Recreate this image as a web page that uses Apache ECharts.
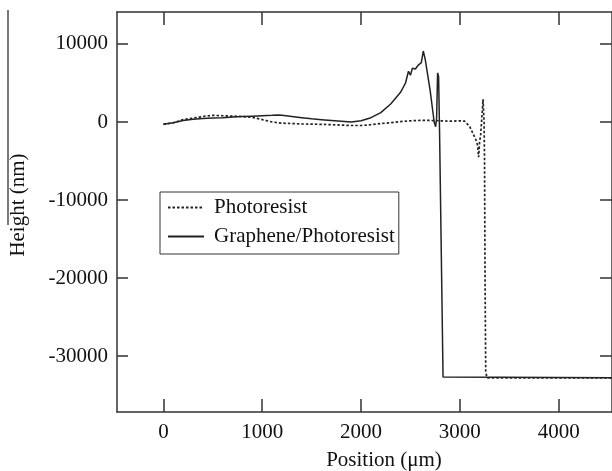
<!DOCTYPE html>
<html>
<head>
<meta charset="utf-8">
<script src="https://cdn.jsdelivr.net/npm/echarts@6/dist/echarts.min.js"></script>
<style>html,body{margin:0;padding:0;background:#fff;}#c{width:612px;height:471px;}</style>
</head>
<body>
<div id="c"></div>
<script>
var xTicks = [0, 1000, 2000, 3000, 4000];
var yTicks = [-30000, -20000, -10000, 0, 10000];

var photoresistX = [0, 100, 200, 300, 400, 500, 600, 700, 800, 900, 1000, 1100, 1200, 1400, 1600, 1800, 1900, 2000, 2100, 2200, 2300, 2400, 2500, 2600, 2700, 2800, 2900, 3000, 3050, 3100, 3130, 3160, 3180, 3190, 3200, 3210, 3225, 3235, 3245, 3250, 3255, 3262, 3275, 4540];
var photoresistY = [-300, -100, 300, 500, 700, 850, 800, 750, 700, 600, 300, 0, -150, -250, -300, -400, -450, -450, -350, -200, -100, 50, 150, 200, 200, 150, 100, 150, 100, -600, -1400, -2200, -3000, -4500, -2500, -1800, -2000, 2900, 0, -5000, -20000, -32000, -32800, -32800];

var grapheneX = [0, 100, 200, 300, 400, 500, 600, 700, 800, 900, 1000, 1100, 1160, 1200, 1300, 1400, 1500, 1600, 1700, 1800, 1900, 2000, 2100, 2200, 2300, 2400, 2450, 2480, 2500, 2520, 2550, 2580, 2610, 2630, 2650, 2700, 2740, 2755, 2765, 2775, 2785, 2795, 2830, 2850, 4540];
var grapheneY = [-300, -100, 200, 350, 450, 500, 550, 650, 700, 750, 800, 850, 900, 850, 700, 550, 400, 300, 200, 100, 0, 150, 550, 1200, 2300, 3800, 5000, 6500, 6000, 6900, 6800, 7300, 7600, 9100, 8000, 4000, 0, -600, 500, 6300, 5800, -1500, -32700, -32800, -32800];

function pairs(xs, ys) { return xs.map(function (x, i) { return [x, ys[i]]; }); }
function plain(v) { return String(v); }

var FONT = '"Liberation Serif", "DejaVu Serif", serif';
var AX = '#333';
var chart = echarts.init(document.getElementById('c'), null, {renderer: 'canvas'});
chart.setOption({
  animation: false,
  backgroundColor: '#fff',
  grid: {left: 117, top: 12, width: 501, height: 400, containLabel: false},
  xAxis: [{
    type: 'value', position: 'bottom', min: -470, max: 4540,
    axisLine: {show: true, onZero: false, lineStyle: {color: AX, width: 1.5}},
    axisTick: {show: true, inside: true, length: 13, customValues: xTicks, lineStyle: {color: AX, width: 1.5}},
    axisLabel: {show: true, customValues: xTicks, formatter: plain, margin: 10, fontFamily: FONT, fontSize: 21, color: '#111'},
    splitLine: {show: false}
  }, {
    type: 'value', position: 'top', min: -470, max: 4540,
    axisLine: {show: true, onZero: false, lineStyle: {color: AX, width: 1.5}},
    axisTick: {show: true, inside: true, length: 13, customValues: xTicks, lineStyle: {color: AX, width: 1.5}},
    axisLabel: {show: false},
    splitLine: {show: false}
  }],
  yAxis: [{
    type: 'value', position: 'left', min: -37180, max: 14100,
    axisLine: {show: true, onZero: false, lineStyle: {color: AX, width: 1.5}},
    axisTick: {show: true, inside: true, length: 11, customValues: yTicks, lineStyle: {color: AX, width: 1.5}},
    axisLabel: {show: true, customValues: yTicks, formatter: plain, margin: 9, fontFamily: FONT, fontSize: 21, color: '#111'},
    splitLine: {show: false}
  }, {
    type: 'value', position: 'right', min: -37180, max: 14100,
    axisLine: {show: true, onZero: false, lineStyle: {color: AX, width: 1.5}},
    axisTick: {show: true, inside: true, length: 12, customValues: yTicks, lineStyle: {color: AX, width: 1.5}},
    axisLabel: {show: false},
    splitLine: {show: false}
  }],
  legend: {
    orient: 'vertical', left: 160, top: 192,
    backgroundColor: '#fff',
    borderColor: '#333', borderWidth: 1, borderRadius: 0,
    padding: [5, 4, 7, 7],
    itemWidth: 36, itemHeight: 14, itemGap: 8,
    itemStyle: {opacity: 0},
    lineStyle: {inactiveColor: '#ccc'},
    textStyle: {fontFamily: FONT, fontSize: 21, color: '#111', lineHeight: 20, padding: [0, 0, 0, 5]},
    data: ['Photoresist', 'Graphene/Photoresist']
  },
  series: [{
    name: 'Photoresist', type: 'line', symbol: 'none', xAxisIndex: 0, yAxisIndex: 0,
    data: pairs(photoresistX, photoresistY),
    lineStyle: {color: '#222', width: 1.7, type: [2.5, 2]},
    itemStyle: {color: '#222'}
  }, {
    name: 'Graphene/Photoresist', type: 'line', symbol: 'none', xAxisIndex: 0, yAxisIndex: 0,
    data: pairs(grapheneX, grapheneY),
    lineStyle: {color: '#222', width: 1.5, type: 'solid'},
    itemStyle: {color: '#222'}
  }],
  graphic: [{
    type: 'text', x: 0, y: 0,
    style: {text: 'Position (\u03bcm)', x: 384, y: 460, align: 'center', verticalAlign: 'middle', font: '21px ' + FONT, fill: '#111'}
  }, {
    type: 'text', x: 18, y: 205, rotation: Math.PI / 2,
    style: {text: 'Height (nm)', x: 0, y: 0, align: 'center', verticalAlign: 'middle', font: '21px ' + FONT, fill: '#111'}
  }, {
    type: 'line', shape: {x1: 8, y1: 10, x2: 8, y2: 225}, style: {stroke: '#222', lineWidth: 1.2}
  }]
});
</script>
</body>
</html>
